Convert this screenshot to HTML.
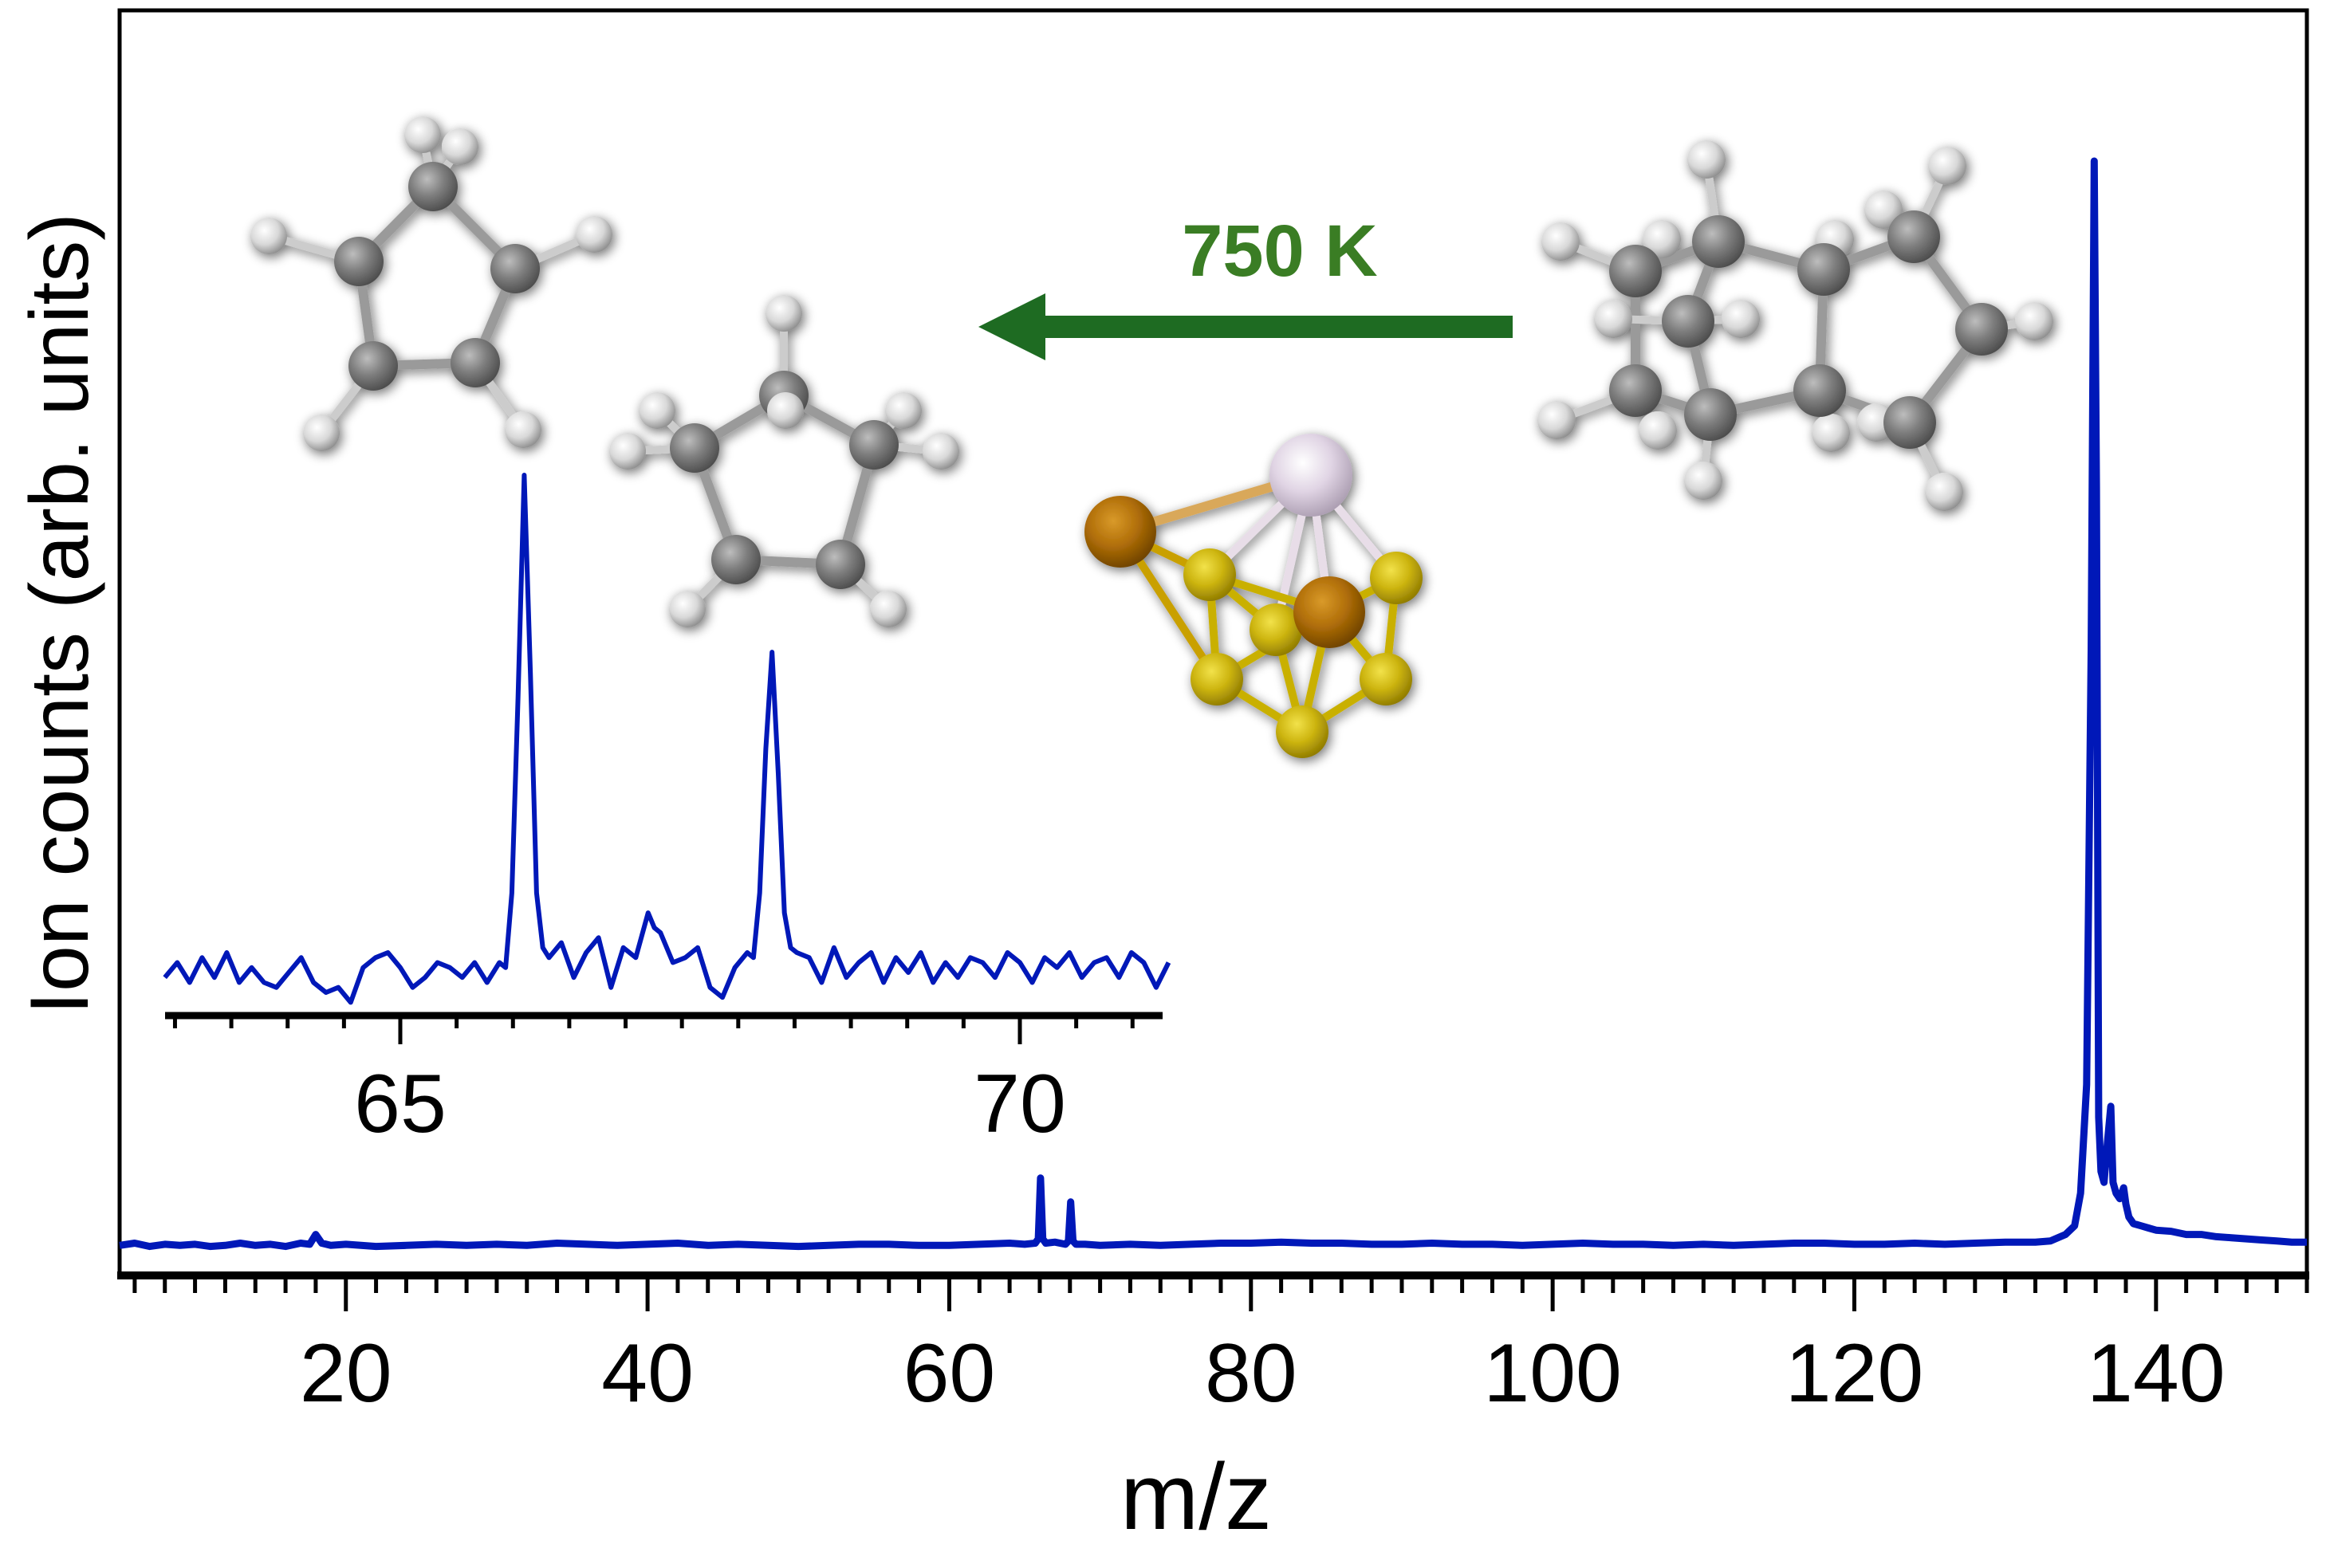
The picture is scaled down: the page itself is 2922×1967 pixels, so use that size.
<!DOCTYPE html>
<html><head><meta charset="utf-8"><style>
html,body{margin:0;padding:0;background:#fff;}
svg{display:block;}
</style></head><body>
<svg id="chart" width="2922" height="1967" viewBox="0 0 2922 1967" xmlns="http://www.w3.org/2000/svg" font-family="'Liberation Sans', sans-serif">
<defs>
<radialGradient id="gC" cx="0.38" cy="0.35" r="0.7"><stop offset="0" stop-color="#bdbdbd"/><stop offset="0.5" stop-color="#7d7d7d"/><stop offset="1" stop-color="#4a4a4a"/></radialGradient>
<radialGradient id="gH" cx="0.38" cy="0.35" r="0.7"><stop offset="0" stop-color="#ffffff"/><stop offset="0.55" stop-color="#d8d8d8"/><stop offset="1" stop-color="#8a8a8a"/></radialGradient>
<radialGradient id="gP" cx="0.4" cy="0.35" r="0.7"><stop offset="0" stop-color="#ffffff"/><stop offset="0.5" stop-color="#e0d4e4"/><stop offset="1" stop-color="#a89aae"/></radialGradient>
<radialGradient id="gB" cx="0.4" cy="0.35" r="0.7"><stop offset="0" stop-color="#d99a2a"/><stop offset="0.5" stop-color="#b06e08"/><stop offset="1" stop-color="#6a4000"/></radialGradient>
<radialGradient id="gY" cx="0.4" cy="0.35" r="0.7"><stop offset="0" stop-color="#f2e24a"/><stop offset="0.5" stop-color="#cdb510"/><stop offset="1" stop-color="#8a7600"/></radialGradient>
<filter id="sh" x="-50%" y="-50%" width="200%" height="200%"><feGaussianBlur in="SourceAlpha" stdDeviation="7"/><feOffset dx="3" dy="4"/><feComponentTransfer><feFuncA type="linear" slope="0.55"/></feComponentTransfer><feMerge><feMergeNode/><feMergeNode in="SourceGraphic"/></feMerge></filter>
</defs>
<g id="molecules"></g>
<g id="plot"></g>
</svg>
<script>
// ---- main spectrum data ----
const mzMain = [5,6,7,8,9,10,11,12,13,14,15,16,17,17.6,18,18.4,19,20,22,24,26,28,30,32,34,36,38,40,42,44,46,48,50,52,54,56,58,60,62,64,65,65.7,65.9,66.05,66.2,66.4,67,67.7,67.9,68.05,68.2,68.4,69,70,72,74,76,78,80,82,84,86,88,90,92,94,96,98,100,102,104,106,108,110,112,114,116,118,120,122,124,126,128,130,132,133,134,134.6,135,135.4,135.7,135.9,136.05,136.2,136.35,136.55,136.8,137,137.15,137.35,137.6,137.85,138,138.2,138.5,139,139.5,140,141,142,143,144,145,146,147,148,149,150];
const intMain = [0.002,0.004,0.001,0.003,0.002,0.003,0.001,0.002,0.004,0.002,0.003,0.001,0.004,0.003,0.012,0.004,0.002,0.003,0.001,0.002,0.003,0.002,0.003,0.002,0.004,0.003,0.002,0.003,0.004,0.002,0.003,0.002,0.001,0.002,0.003,0.003,0.002,0.002,0.003,0.004,0.003,0.004,0.008,0.064,0.008,0.004,0.005,0.003,0.006,0.042,0.006,0.003,0.003,0.002,0.003,0.002,0.003,0.004,0.004,0.005,0.004,0.004,0.003,0.003,0.004,0.003,0.003,0.002,0.003,0.004,0.003,0.003,0.002,0.003,0.002,0.003,0.004,0.004,0.003,0.003,0.004,0.003,0.004,0.005,0.005,0.006,0.012,0.02,0.05,0.15,0.55,1.0,0.7,0.12,0.07,0.06,0.1,0.13,0.06,0.05,0.045,0.055,0.04,0.028,0.022,0.02,0.018,0.016,0.015,0.012,0.012,0.01,0.009,0.008,0.007,0.006,0.005,0.005,0.004];
const xTicksMajor = [20,40,60,80,100,120,140];
// ---- inset data ----
const mzInset = [63.1,63.2,63.3,63.4,63.5,63.6,63.7,63.8,63.9,64.0,64.1,64.2,64.3,64.4,64.5,64.6,64.7,64.8,64.9,65.0,65.1,65.2,65.3,65.4,65.5,65.6,65.7,65.8,65.85,65.9,65.95,66.0,66.05,66.1,66.15,66.2,66.3,66.4,66.5,66.6,66.7,66.8,66.9,67.0,67.05,67.1,67.2,67.3,67.4,67.5,67.6,67.7,67.8,67.85,67.9,67.95,68.0,68.05,68.1,68.15,68.2,68.3,68.4,68.5,68.6,68.7,68.8,68.9,69.0,69.1,69.2,69.3,69.4,69.5,69.6,69.7,69.8,69.9,70.0,70.1,70.2,70.3,70.4,70.5,70.6,70.7,70.8,70.9,71.0,71.1,71.2];
const intInset = [-0.01,0.02,-0.02,0.03,-0.01,0.04,-0.02,0.01,-0.02,-0.03,0.0,0.03,-0.02,-0.04,-0.03,-0.06,0.01,0.03,0.04,0.01,-0.03,-0.01,0.02,0.01,-0.01,0.02,-0.02,0.02,0.01,0.16,0.55,1.0,0.6,0.16,0.05,0.03,0.06,-0.01,0.04,0.07,-0.03,0.05,0.03,0.12,0.09,0.08,0.02,0.03,0.05,-0.03,-0.05,0.01,0.04,0.03,0.16,0.45,0.644,0.4,0.12,0.05,0.04,0.03,-0.02,0.05,-0.01,0.02,0.04,-0.02,0.03,0.0,0.04,-0.02,0.02,-0.01,0.03,0.02,-0.01,0.04,0.02,-0.02,0.03,0.01,0.04,-0.01,0.02,0.03,-0.01,0.04,0.02,-0.03,0.02];
const insetTickMajor = [65,70];
const insetTickLabels = ["65","70"];

const NS="http://www.w3.org/2000/svg";
const plot=document.getElementById('plot');
function mk(tag,attrs,parent){const e=document.createElementNS(NS,tag);for(const k in attrs)e.setAttribute(k,attrs[k]);(parent||plot).appendChild(e);return e;}

const X0=150,X1=2893,XMIN=5,XMAX=150;
const xMain=m=>X0+(m-XMIN)/(XMAX-XMIN)*(X1-X0);
const yMain=v=>1565-v*1363;
const xIn=m=>502+(m-65)*155.4;
const yIn=v=>1220-v*624;

let frame=mk('rect',{x:X0,y:13,width:X1-X0,height:1587,fill:'none',stroke:'#000','stroke-width':5});


let xaxis=mk('line',{x1:X0-3,y1:1600,x2:X1+3,y2:1600,stroke:'#000','stroke-width':10});



for(let m=6;m<=150;m+=2){
  const maj=xTicksMajor.includes(m);
  const t=mk('line',{x1:xMain(m),y1:1600,x2:xMain(m),y2:maj?1645:1622,stroke:'#000','stroke-width':5});
  
  
}
xTicksMajor.forEach(m=>{
  const t=mk('text',{x:xMain(m),y:1758,'font-size':104,'text-anchor':'middle',fill:'#000'});
  t.textContent=String(m);
  
  
});
let xt=mk('text',{x:1500,y:1918,'font-size':118,'text-anchor':'middle',fill:'#000'});
xt.textContent='m/z';


let yt=mk('text',{x:0,y:0,'font-size':104,'text-anchor':'middle',fill:'#000',transform:'translate(110,770) rotate(-90)'});
yt.textContent='Ion counts (arb. units)';



let pts=mzMain.map((m,i)=>xMain(m).toFixed(1)+','+yMain(intMain[i]).toFixed(1)).join(' ');
let ser=mk('polyline',{points:pts,fill:'none',stroke:'#0018b8','stroke-width':9,'stroke-linejoin':'round'});



let ia=mk('line',{x1:207,y1:1274,x2:1458,y2:1274,stroke:'#000','stroke-width':9});


for(let k=-4;k<=13;k++){
  const m=65+k*5/11;
  const maj=insetTickMajor.some(v=>Math.abs(v-m)<1e-6);
  const t=mk('line',{x1:xIn(m),y1:1274,x2:xIn(m),y2:maj?1310:1290,stroke:'#000','stroke-width':5});
  
  
}
insetTickMajor.forEach((m,i)=>{
  const t=mk('text',{x:xIn(m),y:1420,'font-size':104,'text-anchor':'middle',fill:'#000'});
  t.textContent=insetTickLabels[i];
  
  
});
let ip=mzInset.map((m,i)=>xIn(m).toFixed(1)+','+yIn(intInset[i]).toFixed(1)).join(' ');
let iser=mk('polyline',{points:ip,fill:'none',stroke:'#0018b8','stroke-width':6,'stroke-linejoin':'round'});



let arr=mk('g',{});


mk('rect',{x:1305,y:396,width:592,height:28,fill:'#1e6b22'},arr);
mk('polygon',{points:'1227,410 1311,368 1311,452',fill:'#1e6b22'},arr);
let lab=mk('text',{x:1605,y:346,'font-size':92,'font-weight':'bold','text-anchor':'middle',fill:'#3a7d24'});
lab.textContent='750 K';



const mol=document.getElementById('molecules');
function molecule(name,atoms,bonds){
  const g=mk('g',{filter:'url(#sh)'},mol);
  
  
  bonds.forEach(b=>{const a=atoms[b[0]],c=atoms[b[1]];
    mk('line',{x1:a[0],y1:a[1],x2:c[0],y2:c[1],stroke:b[2]||'#9a9a9a','stroke-width':b[3]||12,'stroke-linecap':'round'},g);});
  atoms.forEach(a=>{mk('circle',{cx:a[0],cy:a[1],r:a[2],fill:a[3]},g);});
}
const C='url(#gC)',H='url(#gH)';
molecule('cyclopentadiene-molecule',
 [[543,234,31,C],[450,328,31,C],[646,337,31,C],[468,459,31,C],[596,455,31,C],[530,169,23,H],[577,184,23,H],[337,296,23,H],[745,294,23,H],[403,543,23,H],[656,539,23,H]],
 [[0,1],[0,2],[1,3],[2,4],[3,4],[0,5,'#ccc',10],[0,6,'#ccc',10],[1,7,'#ccc',10],[2,8,'#ccc',10],[3,9,'#ccc',10],[4,10,'#ccc',10]]);
molecule('cyclopentene-molecule',
 [[983,393,23,H],[824,515,23,H],[787,566,23,H],[1133,515,23,H],[1180,566,23,H],[983,496,31,C],[871,562,31,C],[1096,558,31,C],[923,702,31,C],[1054,708,31,C],[985,515,23,H],[862,764,23,H],[1114,764,23,H]],
 [[5,6],[5,7],[6,8],[7,9],[8,9],[5,0,'#ccc',10],[6,1,'#ccc',10],[6,2,'#ccc',10],[7,3,'#ccc',10],[7,4,'#ccc',10],[8,11,'#ccc',10],[9,12,'#ccc',10]]);
molecule('metal-cluster',
 [[1600,790,33,'url(#gY)'],[1517,721,33,'url(#gY)'],[1751,725,33,'url(#gY)'],[1526,852,33,'url(#gY)'],[1738,852,33,'url(#gY)'],[1633,918,33,'url(#gY)'],[1405,667,45,'url(#gB)'],[1644,596,52,'url(#gP)'],[1667,768,45,'url(#gB)']],
 [[6,7,'#d9a85a',12],[6,1,'#c9a000',10],[6,3,'#c9a000',10],[7,1,'#e8dde8',10],[7,2,'#e8dde8',10],[7,8,'#e8dde8',10],[7,0,'#e8dde8',10],[1,3,'#c9b000',10],[1,8,'#c9b000',10],[2,4,'#c9b000',10],[3,5,'#c9b000',10],[4,5,'#c9b000',10],[3,8,'#c9b000',10],[4,8,'#c9b000',10],[5,8,'#c9b000',10],[2,8,'#c9b000',10],[1,0,'#c9b000',10],[0,5,'#c9b000',10]]);
molecule('tetrahydrodicyclopentadiene-molecule',
 [[2084,300,24,H],[2301,300,24,H],[2183,400,24,H],[2023,400,24,H],[2079,540,24,H],[2296,543,24,H],[2353,530,24,H],[2362,263,24,H],
  [2155,303,33,C],[2051,340,33,C],[2117,403,33,C],[2051,490,33,C],[2145,520,33,C],[2287,338,33,C],[2282,490,33,C],[2400,297,33,C],[2485,413,33,C],[2395,530,33,C],
  [2140,200,24,H],[1957,303,24,H],[2551,403,24,H],[1952,527,24,H],[2136,603,24,H],[2438,617,24,H],[2442,208,24,H]],
 [[8,9],[8,10],[9,11],[10,12],[11,12],[8,13],[12,14],[13,14],[13,15],[15,16],[16,17],[17,14],[8,18,'#ccc',10],[9,19,'#ccc',10],[16,20,'#ccc',10],[11,21,'#ccc',10],[12,22,'#ccc',10],[17,23,'#ccc',10],[15,24,'#ccc',10],[10,2,'#ccc',10],[10,3,'#ccc',10]]);
</script>
</body></html>
